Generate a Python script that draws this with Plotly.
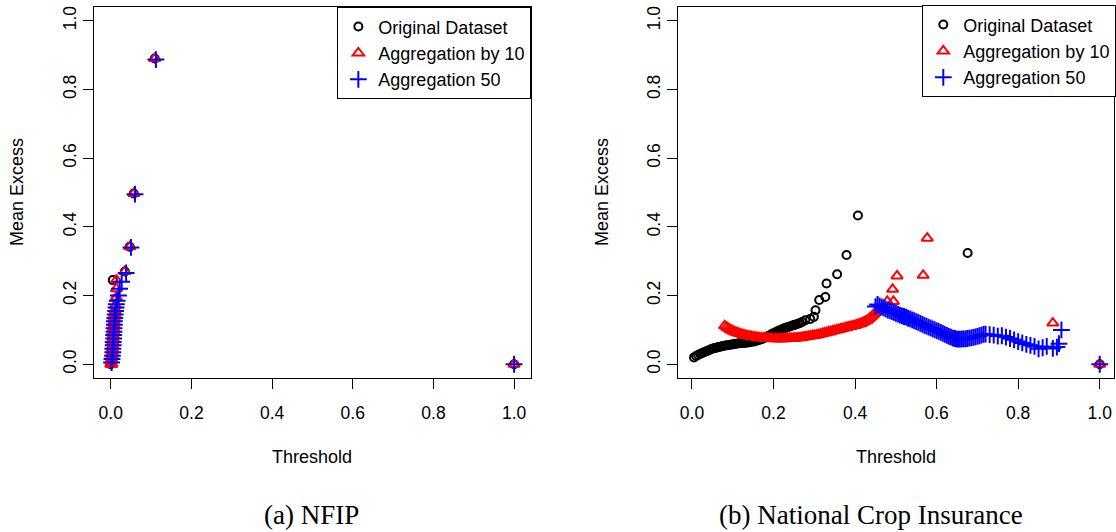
import plotly.graph_objects as go

# ---------------- data: (a) NFIP ----------------
nfip_orig_x = [0.000, 0.001, 0.002, 0.002, 0.003, 0.003, 0.004, 0.004, 0.005, 0.005, 0.006, 0.006,
               0.007, 0.008, 0.009, 0.010, 0.011, 0.013, 0.005, 0.035, 0.047, 0.057, 0.109, 1.000]
nfip_orig_y = [0.000, 0.010, 0.020, 0.030, 0.040, 0.050, 0.060, 0.070, 0.080, 0.090, 0.100, 0.110,
               0.120, 0.130, 0.140, 0.150, 0.165, 0.190, 0.245, 0.270, 0.342, 0.497, 0.890, 0.000]

nfip_agg10_x = [0.000, 0.003, 0.001, 0.002, 0.003, 0.004, 0.004, 0.005, 0.005, 0.006, 0.006, 0.007,
                0.007, 0.008, 0.008, 0.009, 0.010, 0.011, 0.012, 0.014, 0.014, 0.014, 0.035, 0.047,
                0.057, 0.109, 1.000]
nfip_agg10_y = [0.000, 0.000, 0.005, 0.015, 0.025, 0.035, 0.045, 0.055, 0.065, 0.075, 0.085, 0.095,
                0.105, 0.115, 0.125, 0.135, 0.145, 0.155, 0.170, 0.195, 0.220, 0.245, 0.270, 0.342,
                0.497, 0.890, 0.000]

nfip_agg50_x = [0.002, 0.003, 0.004, 0.005, 0.005, 0.006, 0.006, 0.007, 0.007, 0.008, 0.008, 0.009,
                0.009, 0.010, 0.011, 0.012, 0.013, 0.014, 0.016, 0.019, 0.022, 0.027, 0.038, 0.050,
                0.060, 0.112, 1.000]
nfip_agg50_y = [0.005, 0.015, 0.025, 0.035, 0.045, 0.055, 0.065, 0.075, 0.085, 0.095, 0.105, 0.115,
                0.125, 0.135, 0.145, 0.155, 0.165, 0.175, 0.185, 0.200, 0.220, 0.240, 0.266, 0.340,
                0.495, 0.887, 0.000]

# ---------------- data: (b) National Crop Insurance ----------------
crop_orig_x = [0.005, 0.010, 0.015, 0.020, 0.025, 0.030, 0.035, 0.040, 0.045, 0.050, 0.055, 0.060,
               0.065, 0.070, 0.075, 0.080, 0.085, 0.090, 0.095, 0.100, 0.105, 0.110, 0.115, 0.120,
               0.125, 0.130, 0.135, 0.140, 0.145, 0.150, 0.155, 0.160, 0.165, 0.170, 0.175, 0.180,
               0.185, 0.190, 0.195, 0.200, 0.205, 0.210, 0.215, 0.220, 0.225, 0.230, 0.235, 0.240,
               0.245, 0.250, 0.255, 0.260, 0.265, 0.270,
               0.278, 0.290, 0.299, 0.303, 0.312, 0.327, 0.330, 0.356, 0.379, 0.407, 0.676, 1.000]
crop_orig_y = [0.020, 0.024, 0.027, 0.030, 0.033, 0.035, 0.038, 0.040, 0.043, 0.045, 0.047, 0.048,
               0.050, 0.051, 0.053, 0.054, 0.055, 0.056, 0.057, 0.058, 0.059, 0.060, 0.061, 0.061,
               0.062, 0.062, 0.063, 0.064, 0.065, 0.066, 0.067, 0.069, 0.071, 0.073, 0.075, 0.078,
               0.081, 0.084, 0.087, 0.090, 0.093, 0.096, 0.099, 0.101, 0.104, 0.106, 0.108, 0.110,
               0.112, 0.114, 0.116, 0.118, 0.120, 0.123,
               0.128, 0.132, 0.138, 0.157, 0.187, 0.196, 0.235, 0.262, 0.318, 0.433, 0.324, 0.000]

crop_agg10_x = [0.080, 0.085, 0.090, 0.095, 0.100, 0.105, 0.110, 0.115, 0.120, 0.125, 0.130, 0.135,
                0.140, 0.145, 0.150, 0.155, 0.160, 0.165, 0.170, 0.175, 0.180, 0.185, 0.190, 0.195,
                0.200, 0.205, 0.210, 0.215, 0.220, 0.225, 0.230, 0.235, 0.240, 0.245, 0.250, 0.255,
                0.260, 0.265, 0.270, 0.275, 0.280, 0.285, 0.290, 0.295, 0.300, 0.305, 0.310, 0.315,
                0.320, 0.325, 0.330, 0.335, 0.340, 0.345, 0.350, 0.355, 0.360, 0.365, 0.370, 0.375,
                0.380, 0.385, 0.390, 0.395, 0.400, 0.405, 0.410, 0.415, 0.420, 0.425, 0.430, 0.435,
                0.440, 0.445, 0.450, 0.455, 0.460,
                0.479, 0.494, 0.492, 0.503, 0.567, 0.577, 0.885, 1.000]
crop_agg10_y = [0.112, 0.108, 0.104, 0.100, 0.097, 0.094, 0.092, 0.090, 0.088, 0.086, 0.085, 0.083,
                0.082, 0.081, 0.080, 0.079, 0.078, 0.077, 0.077, 0.076, 0.076, 0.075, 0.075, 0.075,
                0.074, 0.074, 0.074, 0.074, 0.074, 0.074, 0.074, 0.075, 0.075, 0.075, 0.076, 0.076,
                0.077, 0.077, 0.078, 0.079, 0.080, 0.081, 0.082, 0.083, 0.084, 0.085, 0.086, 0.088,
                0.089, 0.091, 0.092, 0.094, 0.095, 0.097, 0.098, 0.100, 0.101, 0.103, 0.104, 0.106,
                0.107, 0.109, 0.110, 0.112, 0.113, 0.115, 0.117, 0.119, 0.122, 0.125, 0.128, 0.133,
                0.138, 0.144, 0.150, 0.155, 0.160,
                0.183, 0.183, 0.218, 0.257, 0.259, 0.367, 0.120, 0.000]

crop_agg50_x = [0.450, 0.455, 0.460, 0.465, 0.470, 0.475, 0.480, 0.485, 0.490, 0.495, 0.500, 0.505,
                0.510, 0.515, 0.520, 0.525, 0.530, 0.535, 0.540, 0.545, 0.550, 0.555, 0.560, 0.565,
                0.570, 0.575, 0.580, 0.585, 0.590, 0.595, 0.600, 0.605, 0.610, 0.615, 0.620, 0.625,
                0.630, 0.635, 0.640, 0.645, 0.650, 0.655, 0.660, 0.665, 0.670, 0.675, 0.680, 0.685,
                0.690, 0.695, 0.700, 0.705, 0.710, 0.715, 0.720,
                0.730, 0.740, 0.750, 0.760, 0.770, 0.780, 0.790, 0.800, 0.810, 0.820, 0.830, 0.840,
                0.850, 0.860, 0.870, 0.885, 0.895, 0.900, 0.906, 1.000]
crop_agg50_y = [0.168, 0.174, 0.170, 0.167, 0.164, 0.161, 0.158, 0.156, 0.153, 0.151, 0.148, 0.146,
                0.143, 0.141, 0.139, 0.137, 0.134, 0.132, 0.129, 0.127, 0.124, 0.122, 0.119, 0.116,
                0.113, 0.111, 0.108, 0.106, 0.103, 0.101, 0.098, 0.096, 0.093, 0.090, 0.087, 0.084,
                0.081, 0.079, 0.076, 0.075, 0.073, 0.073, 0.073, 0.074, 0.074, 0.075, 0.076, 0.077,
                0.078, 0.080, 0.081, 0.083, 0.085, 0.087, 0.088,
                0.086, 0.085, 0.082, 0.083, 0.079, 0.075, 0.071, 0.066, 0.062, 0.058, 0.055, 0.052,
                0.045, 0.048, 0.052, 0.046, 0.050, 0.060, 0.100, 0.000]

tick_vals = [0.0, 0.2, 0.4, 0.6, 0.8, 1.0]
tick_text = ["0.0", "0.2", "0.4", "0.6", "0.8", "1.0"]
series_names = ["Original Dataset", "Aggregation by 10", "Aggregation 50"]
captions = ["(a) NFIP", "(b) National Crop Insurance"]

# ---------------- figure ----------------
W, H = 1116, 532
SANS = "Liberation Sans, Arial, sans-serif"
SERIF = "Liberation Serif, Times New Roman, serif"

fig = go.Figure()

styles = [
    dict(symbol="circle-open", size=8, color="black", line=dict(color="black", width=2)),
    dict(symbol="triangle-up-open", size=10, color="red", line=dict(color="red", width=2)),
    dict(symbol="cross-thin", size=12, color="blue", line=dict(color="blue", width=2)),
]

panels = [
    ([(nfip_orig_x, nfip_orig_y), (nfip_agg10_x, nfip_agg10_y), (nfip_agg50_x, nfip_agg50_y)], "x", "y", "legend"),
    ([(crop_orig_x, crop_orig_y), (crop_agg10_x, crop_agg10_y), (crop_agg50_x, crop_agg50_y)], "x2", "y2", "legend2"),
]
for series, xa, ya, lg in panels:
    for (xs, ys), name, st in zip(series, series_names, styles):
        fig.add_trace(go.Scatter(x=xs, y=ys, mode="markers", name=name, marker=st,
                                 xaxis=xa, yaxis=ya, legend=lg, showlegend=True))

axis_common = dict(showline=True, mirror=True, linecolor="black", linewidth=1.3,
                   ticks="outside", ticklen=10, tickwidth=1.3, tickcolor="black",
                   showgrid=False, zeroline=False, tickvals=tick_vals, ticktext=tick_text,
                   tickfont=dict(family=SANS, size=17.5, color="black"))

ydom = [1 - 378 / H, 1 - 7 / H]
fig.update_layout(
    width=W, height=H, margin=dict(l=0, r=0, t=0, b=0),
    paper_bgcolor="white", plot_bgcolor="white",
    xaxis=dict(domain=[94 / W, 532 / W], range=[-0.042, 1.042], anchor="y",
               ticklabelstandoff=9, **axis_common),
    yaxis=dict(domain=ydom, range=[-0.04, 1.04], anchor="x", tickangle=-90, **axis_common),
    xaxis2=dict(domain=[679 / W, 1.0], range=[-0.0348, 1.035], anchor="y2",
                ticklabelstandoff=9, **axis_common),
    yaxis2=dict(domain=ydom, range=[-0.04, 1.04], anchor="x2", tickangle=-90, **axis_common),
    legend=dict(x=532 / W, y=1 - 7 / H, xanchor="right", yanchor="top",
                bordercolor="black", borderwidth=1.3, bgcolor="white",
                font=dict(family=SANS, size=18, color="black")),
    legend2=dict(x=1118 / W, y=1 - 5 / H, xanchor="right", yanchor="top",
                 bordercolor="black", borderwidth=1.3, bgcolor="white",
                 font=dict(family=SANS, size=18, color="black")),
)

annots = []
for cx, ytx in [(313, 17), (898, 603)]:
    annots.append(dict(text="Threshold", x=cx / W, y=1 - 457 / H, xref="paper", yref="paper",
                       showarrow=False, xanchor="center", yanchor="middle",
                       font=dict(family=SANS, size=18, color="black")))
    annots.append(dict(text="Mean Excess", x=ytx / W, y=1 - 192 / H, xref="paper", yref="paper",
                       showarrow=False, xanchor="center", yanchor="middle", textangle=-90,
                       font=dict(family=SANS, size=18, color="black")))
for cap, cx in zip(captions, [312, 873]):
    annots.append(dict(text=cap, x=cx / W, y=1 - 515 / H, xref="paper", yref="paper",
                       showarrow=False, xanchor="center", yanchor="middle",
                       font=dict(family=SERIF, size=27, color="black")))
fig.update_layout(annotations=annots)

fig.write_html("out.html")
